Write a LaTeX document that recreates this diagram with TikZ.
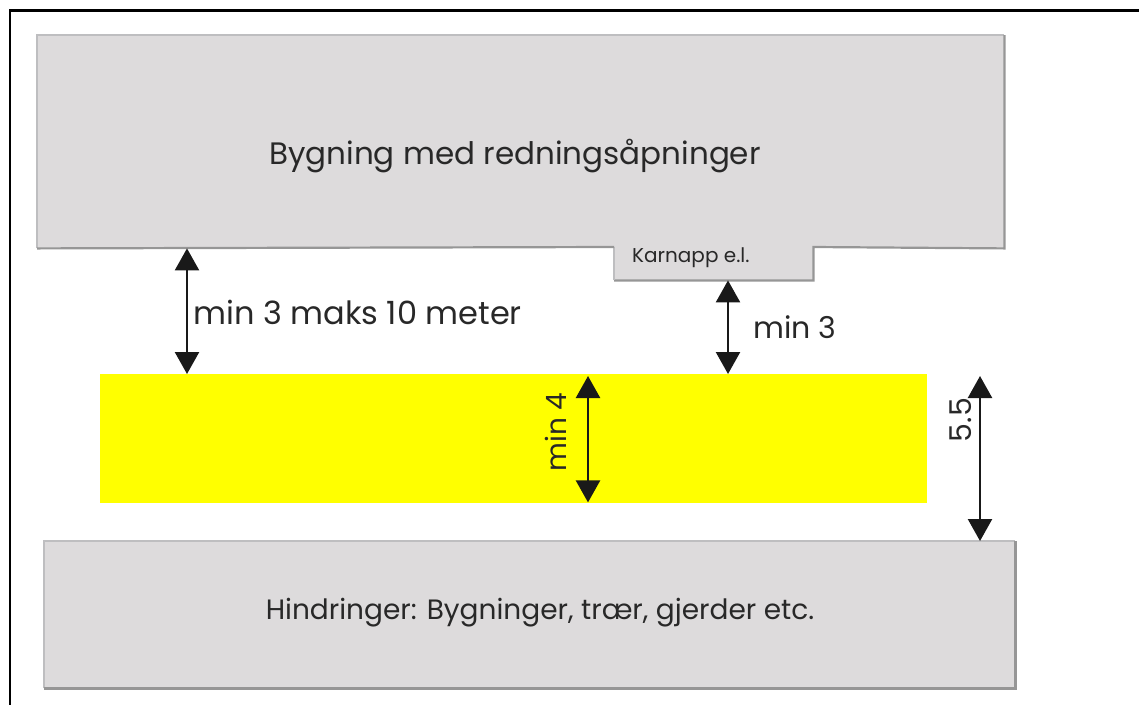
\documentclass[tikz,border=0pt]{standalone}
\usepackage{fontspec}
\setmainfont{Poppins}
\usetikzlibrary{arrows.meta}
\definecolor{boxfill}{RGB}{221,219,220}
\definecolor{boxedge}{RGB}{190,190,192}
\definecolor{boxshade}{RGB}{150,150,150}
\definecolor{zoneyellow}{RGB}{255,255,0}
\definecolor{txt}{RGB}{40,40,40}
\tikzset{
  edge/.style={draw=boxedge, line width=1.2pt},
  shade/.style={draw=boxshade, line width=2.2pt},
  dim/.style={line width=2.4pt, draw=black!90, >={Triangle[length=22pt,width=24pt]}, <->},
  lbl/.style={text=txt, inner sep=0pt, font=\fontsize{30}{34}\selectfont},
  big/.style={text=txt, inner sep=0pt, font=\fontsize{28}{32}\selectfont},
}
\begin{document}
\begin{tikzpicture}[x=1pt,y=-1pt]
\useasboundingbox (0,0) rectangle (1139,705);
% frame
\draw[line width=2.6pt,black] (1139,10.5) -- (10,10.5) -- (10,705);
% top building
\node[fill=boxfill, inner sep=0pt, minimum width=967pt, minimum height=213pt, anchor=north west] (building) at (37,35) {};
\node[fill=boxfill, inner sep=0pt, minimum width=199pt, minimum height=33pt, anchor=north west] (karnapp) at (614,247) {};
\draw[edge] (building.south west) -- (building.north west) -- (building.north east);
\draw[shade] (building.north east) -- (building.south east) -- (karnapp.north east) -- (karnapp.south east) -- (karnapp.south west);
\draw[edge] (karnapp.south west) -- (karnapp.north west);
\draw[shade] (karnapp.north west) -- (building.south west);
\node[big, font=\fontsize{31}{35}\selectfont] at (515,156) {Bygning med redningsåpninger};
\node[text=txt, inner sep=0pt, font=\fontsize{20}{23}\selectfont, anchor=west] at (632,258) {Karnapp e.l.};
% yellow zone
\node[fill=zoneyellow, inner sep=0pt, minimum width=827pt, minimum height=129pt, anchor=north west] (zone) at (100,374) {};
% bottom obstacles
\node[fill=boxfill, inner sep=0pt, minimum width=971pt, minimum height=147pt, anchor=north west] (obst) at (44,541) {};
\draw[edge] (obst.south west) -- (obst.north west) -- (obst.north east);
\draw[shade] (obst.north east) -- (obst.south east) -- (obst.south west);
\node[big] at (540,613) {Hindringer: Bygninger, trær, gjerder etc.};
% dimension arrows
\coordinate (a1) at (187,0);
\coordinate (a2) at (728,0);
\coordinate (a3) at (588,0);
\coordinate (a4) at (980,0);
\draw[dim] (building.south -| a1) -- (zone.north -| a1);
\draw[dim] (karnapp.south -| a2) -- (zone.north -| a2);
\draw[dim] ([yshift=-2pt]zone.north -| a3) -- ([yshift=1pt]zone.south -| a3);
\draw[dim] ([yshift=-2pt]zone.north -| a4) -- (obst.north -| a4);
\node[lbl, anchor=west, font=\fontsize{32}{36}\selectfont] at (193,312) {min 3 maks 10 meter};
\node[lbl, anchor=west] at (753,327) {min 3};
\node[lbl, rotate=90, font=\fontsize{28}{32}\selectfont] at (556,432) {min 4};
\node[lbl, rotate=90] at (961,420) {5.5};
\end{tikzpicture}
\end{document}
